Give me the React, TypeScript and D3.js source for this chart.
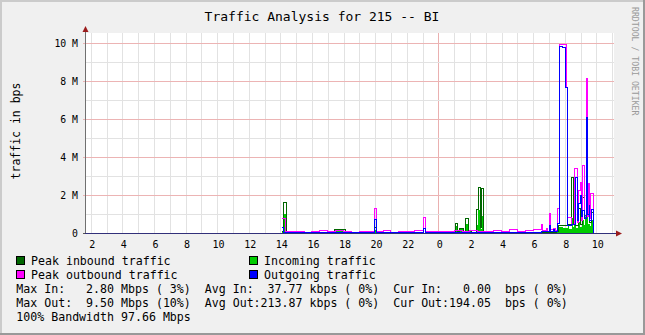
import React from 'react';
import * as d3 from 'd3';

const W = 645;
const H = 335;

// hours since 00:00 of the first day
const hourLabels = [2, 4, 6, 8, 10, 12, 14, 16, 18, 20, 22, 24, 26, 28, 30, 32, 34];
const yTicks = [0, 2, 4, 6, 8, 10];
const yTickLabels = ['0', '2 M', '4 M', '6 M', '8 M', '10 M'];

// values in Mbit/s (1e6 bps), step data [hour, value]
const peakIn: [number, number][] = [
  [14.11, 0.1], [14.23, 1.64], [14.4, 0.03], [15.5, 0.02], [17.46, 0.2], [18.1, 0.03],
  [19.99, 0.3], [20.1, 0.02], [25.06, 0.51], [25.24, 0.1], [25.37, 0.26], [25.6, 0.1],
  [25.69, 0.78], [25.88, 0.15], [26.1, 0.05], [26.42, 1.27], [26.53, 2.45], [26.7, 0.3],
  [26.75, 2.36], [26.89, 0.1], [27.0, 0.03], [31.5, 0.1], [31.6, 0.4], [32.2, 0.5],
  [32.44, 2.98], [32.53, 0.5], [32.6, 0.9], [32.7, 0.4], [32.86, 1.3], [32.97, 0.5],
  [33.11, 1.92], [33.24, 0.8], [33.4, 1.1], [33.55, 0.6], [33.68, 1.1], [33.81, 0],
];

const incoming: [number, number][] = [
  [14.11, 0.05], [14.23, 1.0], [14.4, 0.02], [17.46, 0.12], [18.1, 0.02], [19.99, 0.15],
  [20.1, 0.02], [25.06, 0.37], [25.24, 0.06], [25.37, 0.2], [25.6, 0.06], [25.69, 0.5],
  [25.88, 0.08], [26.1, 0.03], [26.42, 0.4], [26.53, 1.2], [26.7, 0.2], [26.75, 0.9],
  [26.89, 0.05], [27.0, 0.02], [31.54, 0.2], [31.66, 0.32], [31.9, 0.26], [32.19, 0.38],
  [32.3, 0.22], [32.44, 0.8], [32.53, 0.3], [32.6, 0.5], [32.7, 0.25], [32.86, 0.6],
  [32.97, 0.3], [33.11, 0.7], [33.2, 0.4], [33.3, 0.95], [33.45, 0.5], [33.6, 0.35],
  [33.68, 0.7], [33.81, 0],
];

const peakOut: [number, number][] = [
  [14.11, 0.81], [14.3, 0.12], [14.5, 0.08], [15.0, 0.13], [15.5, 0.06], [16.0, 0.1],
  [16.5, 0.15], [17.0, 0.08], [17.5, 0.16], [18.0, 0.11], [18.5, 0.07], [19.0, 0.12],
  [19.5, 0.09], [19.99, 1.3], [20.12, 0.1], [20.5, 0.14], [21.0, 0.07], [21.5, 0.12],
  [22.0, 0.09], [22.5, 0.14], [23.05, 0.83], [23.2, 0.1], [23.5, 0.08], [24.0, 0.13],
  [24.5, 0.1], [25.0, 0.15], [25.5, 0.11], [26.0, 0.17], [26.5, 0.13], [27.0, 0.1],
  [27.5, 0.16], [28.0, 0.12], [28.5, 0.19], [29.0, 0.1], [29.5, 0.15], [30.0, 0.21],
  [30.54, 0.46], [30.62, 0.14], [30.82, 0.28], [30.9, 0.12], [31.03, 1.04], [31.13, 0.2],
  [31.3, 0.26], [31.4, 0.15], [31.54, 1.34], [31.64, 9.95], [32.13, 7.7], [32.19, 0.85],
  [32.4, 0.45], [32.65, 3.42], [32.8, 0.6], [32.86, 2.27], [32.97, 2.71], [33.08, 0.7],
  [33.11, 3.6], [33.24, 0.9], [33.35, 8.18], [33.46, 0.9], [33.49, 2.62], [33.6, 0.8],
  [33.66, 2.13], [33.81, 0],
];

const outgoing: [number, number][] = [
  [14.11, 0.3], [14.23, 0.06], [15.0, 0.05], [16.0, 0.04], [17.0, 0.06], [18.0, 0.05],
  [19.0, 0.04], [19.99, 0.74], [20.08, 0.05], [21.0, 0.04], [22.0, 0.05], [23.05, 0.26],
  [23.2, 0.05], [24.0, 0.04], [25.0, 0.06], [26.0, 0.05], [27.0, 0.06], [28.0, 0.05],
  [29.0, 0.07], [29.8, 0.05], [30.5, 0.08], [31.03, 0.42], [31.13, 0.08], [31.28, 0.2],
  [31.35, 0.1], [31.54, 0.51], [31.67, 9.88], [31.85, 9.8], [32.02, 7.7], [32.19, 0.4],
  [32.45, 0.5], [32.68, 2.98], [32.8, 0.7], [32.86, 1.6], [32.97, 2.0], [33.08, 0.9],
  [33.11, 1.22], [33.24, 0.8], [33.37, 6.1], [33.47, 1.0], [33.55, 1.5], [33.6, 0.7],
  [33.68, 1.25], [33.81, 0],
];

const legendItems = [
  { label: 'Peak inbound traffic', color: '#006600', col: 0, row: 0 },
  { label: 'Incoming traffic', color: '#00cc00', col: 1, row: 0 },
  { label: 'Peak outbound traffic', color: '#ff00ff', col: 0, row: 1 },
  { label: 'Outgoing traffic', color: '#0000ff', col: 1, row: 1 },
];

const statLines = [
  'Max In:   2.80 Mbps ( 3%)  Avg In:  37.77 kbps ( 0%)  Cur In:   0.00  bps ( 0%)',
  'Max Out:  9.50 Mbps (10%)  Avg Out:213.87 kbps ( 0%)  Cur Out:194.05  bps ( 0%)',
  '100% Bandwidth 97.66 Mbps',
];

const title = 'Traffic Analysis for 215 -- BI';
const yTitle = 'traffic in bps';
const watermark = 'RRDTOOL / TOBI OETIKER';

const FONT = '"DejaVu Sans Mono", monospace';

export default function App() {
  const L = 86, R = 614, T = 33, B = 233;
  const x = d3.scaleLinear().domain([1.7025, 35.12]).range([L, R]);
  const y = d3.scaleLinear().domain([0, 10.55]).range([B, T]);

  const line = d3.line<[number, number]>()
    .x(d => x(d[0]))
    .y(d => Math.round(y(d[1])) + 0.5)
    .curve(d3.curveStepAfter);
  const area = d3.area<[number, number]>()
    .x(d => x(d[0]))
    .y0(y(0))
    .y1(d => y(d[1]))
    .curve(d3.curveStepAfter);

  const hours = d3.range(2, 36).filter(h => x(h) <= R);
  const minorY = d3.range(1, 11, 2);

  return (
    <svg width={W} height={H} style={{ position: 'absolute', left: 0, top: 0, display: 'block' }}
      xmlns="http://www.w3.org/2000/svg">
      <rect x={0} y={0} width={W} height={H} fill="#f0f0f0" />
      {/* 3D frame */}
      <rect x={0} y={0} width={W} height={2} fill="#cbcbcb" />
      <rect x={0} y={0} width={2} height={H} fill="#cbcbcb" />
      <rect x={0} y={H - 2} width={W} height={2} fill="#999999" />
      <rect x={W - 2} y={0} width={2} height={H} fill="#999999" />

      <rect x={L} y={T} width={R - L} height={B - T} fill="#ffffff" />

      {/* vertical grid */}
      {hours.map(h => (
        <line key={'vg' + h} x1={Math.round(x(h)) + 0.5} x2={Math.round(x(h)) + 0.5} y1={T} y2={B}
          stroke={h === 24 ? '#eab0b0' : '#e2e2e2'} strokeWidth={1} shapeRendering="crispEdges" />
      ))}
      {/* horizontal minor grid */}
      {minorY.map(v => (
        <line key={'hm' + v} x1={L} x2={R} y1={Math.round(y(v)) + 0.5} y2={Math.round(y(v)) + 0.5}
          stroke="#e2e2e2" strokeWidth={1} shapeRendering="crispEdges" />
      ))}
      {/* horizontal major grid */}
      {yTicks.filter(v => v > 0).map(v => (
        <line key={'hM' + v} x1={L - 3} x2={R} y1={Math.round(y(v)) + 0.5} y2={Math.round(y(v)) + 0.5}
          stroke="#ecb4b4" strokeWidth={1} shapeRendering="crispEdges" />
      ))}

      {/* data */}
      <path d={area(incoming) || ''} fill="#00cc00" shapeRendering="crispEdges" />
      <path d={line(peakIn) || ''} fill="none" stroke="#006600" strokeWidth={1} shapeRendering="crispEdges" />
      <path d={line(peakOut) || ''} fill="none" stroke="#ff00ff" strokeWidth={1} shapeRendering="crispEdges" />
      <path d={line(outgoing) || ''} fill="none" stroke="#0000ff" strokeWidth={1} shapeRendering="crispEdges" />

      {/* axes */}
      <line x1={L - 3} x2={L} y1={B + 0.5} y2={B + 0.5} stroke="#555" shapeRendering="crispEdges" />
      <line x1={L - 0.5} x2={L - 0.5} y1={B + 1} y2={T - 4} stroke="#707070" strokeWidth={1} shapeRendering="crispEdges" />
      <line x1={L - 1} x2={R + 3} y1={B + 0.5} y2={B + 0.5} stroke="#32307a" strokeWidth={1} shapeRendering="crispEdges" />
      <path d={`M${L - 0.5},${T - 7} L${L - 3.5},${T - 1} L${L + 2.5},${T - 1} Z`} fill="#9b1c1c" />
      <path d={`M${R + 8},${B + 0.5} L${R + 2},${B - 2.5} L${R + 2},${B + 3.5} Z`} fill="#9b1c1c" />

      {/* y tick labels */}
      {yTicks.map((v, i) => (
        <text key={'yl' + v} x={78} y={y(v) + 3.6} textAnchor="end" fontFamily={FONT} fontSize={9.8}
          fill="#000" style={{ whiteSpace: 'pre' }}>{yTickLabels[i]}</text>
      ))}
      {/* x tick labels */}
      {hourLabels.map(h => (
        <text key={'xl' + h} x={x(h) + 1.5} y={247.5} textAnchor="middle" fontFamily={FONT} fontSize={10}
          fill="#000">{String(h % 24)}</text>
      ))}

      {/* title */}
      <text x={322} y={20.5} textAnchor="middle" fontFamily={FONT} fontSize={13} fill="#000"
        style={{ whiteSpace: 'pre' }}>{title}</text>
      {/* y title */}
      <text transform="translate(19.5,131) rotate(-90)" textAnchor="middle" fontFamily={FONT}
        fontSize={11.5} fill="#000">{yTitle}</text>
      {/* watermark */}
      <text transform="translate(632,7) rotate(90)" fontFamily={FONT} fontSize={8.2} fill="#9a9a9a"
        style={{ whiteSpace: 'pre' }}>{watermark}</text>

      {/* legend */}
      {legendItems.map(it => {
        const bx = it.col === 0 ? 16.5 : 249.5;
        const tx = it.col === 0 ? 31 : 264;
        const by = 265 + it.row * 14;
        return (
          <g key={it.label}>
            <rect x={bx} y={by - 8.5} width={8} height={8} fill={it.color} stroke="#000" strokeWidth={1}
              shapeRendering="crispEdges" />
            <text x={tx} y={by} fontFamily={FONT} fontSize={11.6} fill="#000"
              style={{ whiteSpace: 'pre' }}>{it.label}</text>
          </g>
        );
      })}
      {statLines.map((s, i) => (
        <text key={'st' + i} x={16.3} y={293 + i * 14} fontFamily={FONT} fontSize={11.6} fill="#000"
          style={{ whiteSpace: 'pre' }}>{s}</text>
      ))}
    </svg>
  );
}
